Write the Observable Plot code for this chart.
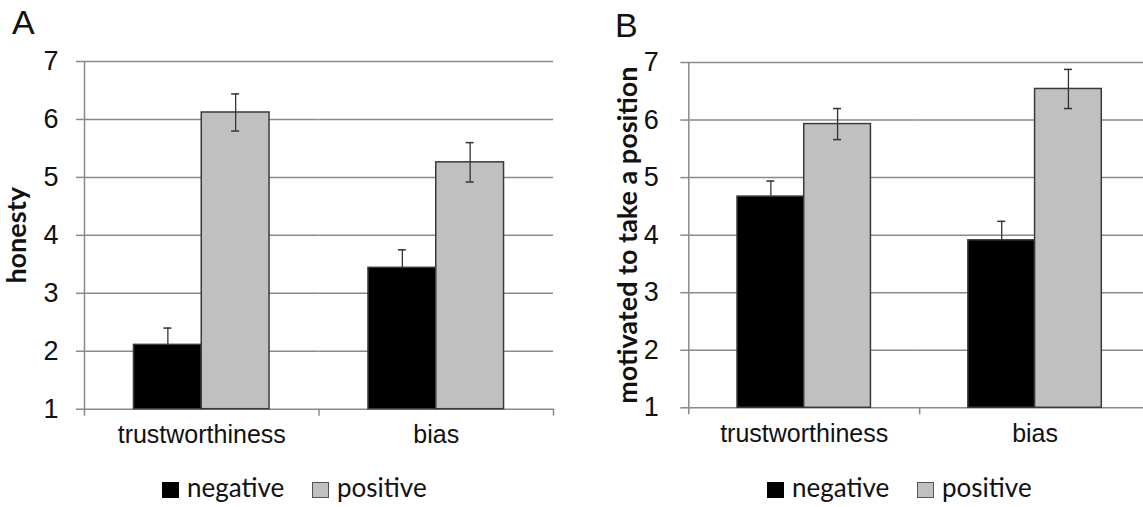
<!DOCTYPE html>
<html><head><meta charset="utf-8">
<script src="https://cdn.jsdelivr.net/npm/d3@7"></script>
<script src="https://cdn.jsdelivr.net/npm/@observablehq/plot@0.6"></script>
<style>
html,body{margin:0;padding:0;background:#fff;overflow:hidden;}
#wrap{position:relative;width:1143px;height:507px;overflow:hidden;background:#fff;}
.panel{position:absolute;top:0;}
.panel svg{max-width:none !important;}
.tag{position:absolute;font-family:"Liberation Sans",Arial,sans-serif;font-size:34px;color:#111;line-height:1;}
.lgtext{position:absolute;font-family:Lato,"Open Sans",sans-serif;font-size:26px;color:#111;line-height:1;white-space:nowrap;}
.sw{position:absolute;width:17px;height:16px;box-sizing:border-box;}
</style></head><body><div id="wrap"></div>
<script>
// ---- data ----
const categories = ["trustworthiness", "bias"];
const conditions = ["negative", "positive"];
const yTicks = [1, 2, 3, 4, 5, 6, 7];
const panelLabels = ["A", "B"];
const yLabels = ["honesty", "motivated to take a position"];
const conditionFills = ["#000000", "#c0c0c0"];

const honestyNegative = [2.11, 3.44];
const honestyPositive = [6.12, 5.26];
const honestyNegativeErr = [0.29, 0.31];
const honestyPositiveErr = [0.32, 0.34];

const motivatedNegative = [4.67, 3.91];
const motivatedPositive = [5.93, 6.54];
const motivatedNegativeErr = [0.27, 0.33];
const motivatedPositiveErr = [0.27, 0.34];

function rows(neg, pos, negErr, posErr) {
  const out = [];
  categories.forEach((c, i) => {
    out.push({cat: c, cond: conditions[0], value: neg[i], err: negErr[i]});
    out.push({cat: c, cond: conditions[1], value: pos[i], err: posErr[i]});
  });
  return out;
}

function errorMarks(data, capInset, errColor) {
  return [
    Plot.ruleX(data, {fx: "cat", x: "cond", y1: d => d.value - d.err, y2: d => d.value + d.err, stroke: errColor, strokeWidth: 1.3}),
    Plot.tickY(data, {fx: "cat", x: "cond", y: d => d.value + d.err, insetLeft: capInset, insetRight: capInset, stroke: errColor, strokeWidth: 1.5}),
    Plot.tickY(data, {fx: "cat", x: "cond", y: d => d.value - d.err, insetLeft: capInset, insetRight: capInset, stroke: errColor, strokeWidth: 1.5})
  ];
}

function panel(o) {
  const {data, yLabel, width, height, mL, mR, mT, mB, tickPadding, labelDx} = o;
  const frameW = width - mL - mR, frameH = height - mT - mB;
  const po = 0.73;
  const facetW = frameW / categories.length;
  const step = facetW / (conditions.length + 2 * po);
  const edge = step * po + step / 2;
  const capInset = (step - 8) / 2;
  const gridColor = "#8a8a8a";
  const errColor = "#333";
  const edgeStyle = {stroke: gridColor, strokeWidth: 1.5};
  const negRows = data.filter(d => d.cond === conditions[0]);
  const posRows = data.filter(d => d.cond !== conditions[0]);
  return Plot.plot({
    width, height, marginLeft: mL, marginRight: mR, marginTop: mT, marginBottom: mB,
    style: {fontFamily: '"Liberation Sans", Arial, sans-serif', background: "transparent", overflow: "visible"},
    fx: {domain: categories, padding: 0, round: false, axis: null},
    x: {domain: conditions, paddingInner: 0, paddingOuter: po, round: false, axis: null},
    y: {domain: [yTicks[0], yTicks[yTicks.length - 1]], axis: null},
    color: {domain: conditions, range: conditionFills},
    marks: [
      Plot.gridY(yTicks, {stroke: gridColor, strokeOpacity: 1, strokeWidth: 1.5}),
      Plot.axisY(yTicks, {tickSize: 8, tickPadding, stroke: gridColor, strokeWidth: 1.5, fill: "#111", fontSize: 27, tickFormat: d => d, label: null}),
      Plot.text([{cat: categories[0], label: yLabel}], {fx: "cat", text: "label", frameAnchor: "left", textAnchor: "middle", rotate: -90, dx: labelDx, lineAnchor: "bottom", fontFamily: "Lato", fontWeight: "bold", fontSize: 27, fill: "#111"}),
      Plot.ruleX([{cat: categories[0], cond: conditions[0]}], {fx: "cat", x: "cond", dx: -edge, insetBottom: -7, ...edgeStyle}),
      Plot.ruleX(categories.slice(1).map(c => ({cat: c, cond: conditions[0]})), {fx: "cat", x: "cond", dx: -edge, insetTop: frameH, insetBottom: -7, ...edgeStyle}),
      Plot.ruleX([{cat: categories[categories.length - 1], cond: conditions[conditions.length - 1]}], {fx: "cat", x: "cond", dx: edge, insetTop: frameH, insetBottom: -7, ...edgeStyle}),
      // negative-condition error bars sit behind the black bars, so only their upper half shows
      ...errorMarks(negRows, capInset, errColor),
      Plot.barY(data, {fx: "cat", x: "cond", y1: yTicks[0], y2: "value", fill: "cond", stroke: "#3a3a3a", strokeWidth: 1.5}),
      ...errorMarks(posRows, capInset, errColor),
      Plot.axisFx({anchor: "bottom", tickSize: 0, tickPadding: 16, fontSize: 25, fill: "#111", label: null})
    ]
  });
}

const wrap = document.getElementById("wrap");
const specs = [
  {left: 0, data: rows(honestyNegative, honestyPositive, honestyNegativeErr, honestyPositiveErr), yLabel: yLabels[0],
   width: 570, height: 450, mL: 84, mR: 17, mT: 61, mB: 41.3, tickPadding: 18, labelDx: -59,
   tag: {left: 12, top: 5}, legend: 162},
  {left: 570, data: rows(motivatedNegative, motivatedPositive, motivatedNegativeErr, motivatedPositiveErr), yLabel: yLabels[1],
   width: 600, height: 450, mL: 118.3, mR: 20, mT: 62, mB: 42.7, tickPadding: 22, labelDx: -52,
   tag: {left: 615, top: 8}, legend: 767}
];

specs.forEach((s, i) => {
  const div = document.createElement("div");
  div.className = "panel";
  div.style.left = s.left + "px";
  div.style.width = s.width + "px";
  div.appendChild(panel(s));
  wrap.appendChild(div);

  const tag = document.createElement("div");
  tag.className = "tag";
  tag.textContent = panelLabels[i];
  tag.style.left = s.tag.left + "px";
  tag.style.top = s.tag.top + "px";
  wrap.appendChild(tag);

  conditions.forEach((c, j) => {
    const x0 = s.legend + j * 150;
    const sw = document.createElement("div");
    sw.className = "sw";
    sw.style.left = x0 + "px";
    sw.style.top = "482px";
    sw.style.background = conditionFills[j];
    sw.style.border = j === 0 ? "none" : "1.5px solid #555";
    wrap.appendChild(sw);
    const t = document.createElement("div");
    t.className = "lgtext";
    t.textContent = c;
    t.style.left = (x0 + 25) + "px";
    t.style.top = "474px";
    wrap.appendChild(t);
  });
});
</script>
</body></html>
